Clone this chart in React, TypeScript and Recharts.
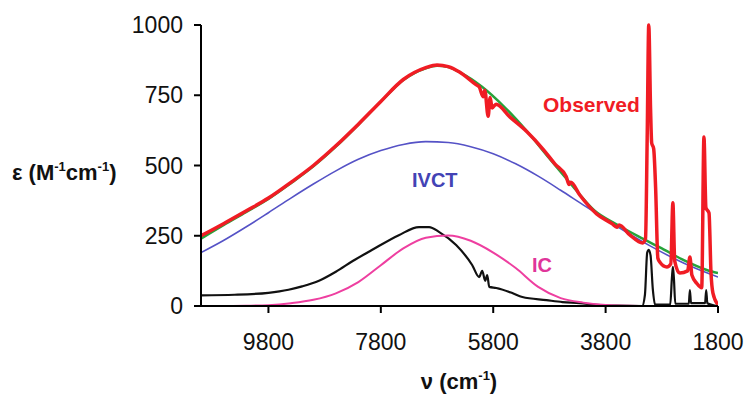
import { ComposedChart, Line, ReferenceLine, XAxis, YAxis } from "recharts";

// wavenumber grid (cm-1) used by the two fitted components
const gridNu = [
  11000, 10600, 10200, 9800, 9400, 9000, 8600, 8200, 7800, 7400, 7000, 6600,
  6200, 5800, 5400, 5000, 4600, 4200, 3800, 3400, 3000, 2600, 2200, 1800,
];
const ivct = [
  190, 233, 281, 332, 384, 434, 481, 522, 553, 575, 585, 582, 567, 542, 506,
  462, 412, 360, 309, 259, 213, 171, 134, 103,
];
const ic = [
  0, 0, 1, 3, 10, 22, 45, 85, 145, 205, 243, 251, 232, 190, 135, 68, 28, 12, 4,
  1, 0, 0, 0, 0,
];

// total fit
const fitNu = [
  11000, 10600, 10200, 9800, 9400, 9000, 8600, 8200, 7800, 7400, 7000, 6800,
  6600, 6400, 6000, 5600, 5200, 4800, 4400, 4000, 3600, 3200, 2800, 2400, 2000,
  1800,
];
const fit = [
  240, 288, 334, 381, 437, 497, 567, 645, 727, 804, 846, 855, 850, 832, 780,
  708, 622, 525, 430, 340, 290, 246, 205, 162, 128, 117,
];

// observed spectrum
const obsNu = [
  11000, 10600, 10200, 9800, 9400, 9000, 8600, 8200, 7800, 7400, 7000, 6800,
  6600, 6400, 6100, 6050, 5980, 5950, 5890, 5855, 5820, 5750, 5500, 5200, 4900,
  4700, 4500, 4450, 4420, 4260, 3960, 3680, 3600, 3560, 3370, 3140, 3090, 3060,
  3032, 3000, 2980, 2945, 2910, 2870, 2830, 2710, 2640, 2603, 2570, 2480, 2340,
  2300, 2265, 2175, 2090, 2050, 2015, 1960, 1925, 1890, 1800,
];
const observed = [
  250, 293, 338, 384, 440, 500, 570, 647, 728, 806, 848, 858, 852, 833, 787,
  780, 745, 768, 675, 742, 705, 718, 672, 620, 555, 505, 460, 432, 440, 395,
  328, 292, 280, 288, 253, 224, 240, 600, 1000, 700, 580, 560, 420, 170, 155,
  139, 150, 367, 160, 117, 125, 174, 110, 80, 65, 601, 350, 331, 120, 46, 5,
];

// black trace
const difNu = [
  11000, 10400, 9800, 9443, 9200, 8900, 8600, 8300, 7960, 7480, 7120, 6940,
  6760, 6460, 6175, 6050, 5996, 5943, 5907, 5871, 5746, 5461, 5282, 4853, 4568,
  4264, 3961, 3600, 3150, 3100, 3060, 3032, 3000, 2960, 2920, 2650, 2620, 2603,
  2585, 2560, 2320, 2300, 2280, 2030, 2010, 1990, 1800,
];
const dif = [
  38, 40, 47, 58, 70, 90, 122, 160, 199, 252, 281, 281, 263, 217, 146, 103, 125,
  90, 110, 68, 64, 46, 32, 21, 14, 10, 4, 1, 0, 40, 190, 200, 180, 60, 5, 5,
  100, 139, 100, 8, 8, 57, 10, 10, 57, 10, 0,
];

const toRows = (nu: number[], v: number[]) =>
  nu.map((n, i) => ({ nu: n, v: v[i] }));

const font = "'Liberation Sans', Arial, sans-serif";

export default function App() {
  return (
    <div style={{ position: "absolute", left: 0, top: 0, width: 749, height: 394, background: "#fff" }}>
      <ComposedChart width={749} height={394} margin={{ top: 25, right: 31, bottom: 28, left: 0 }}>
        <XAxis
          dataKey="nu"
          type="number"
          domain={[1800, 11000]}
          reversed
          allowDataOverflow
          ticks={[9800, 7800, 5800, 3800, 1800]}
          height={60}
          tickSize={7}
          tickMargin={21}
          axisLine={{ stroke: "#000", strokeWidth: 2 }}
          tickLine={{ stroke: "#000", strokeWidth: 2 }}
          tick={{ fill: "#111", fontSize: 23, fontFamily: font }}
        />
        <YAxis
          type="number"
          domain={[0, 1000]}
          ticks={[0, 250, 500, 750, 1000]}
          width={201}
          tickSize={7}
          tickMargin={11}
          axisLine={{ stroke: "#000", strokeWidth: 2 }}
          tickLine={{ stroke: "#000", strokeWidth: 2 }}
          tick={{ fill: "#111", fontSize: 23, fontFamily: font }}
        />
        <ReferenceLine y={0} stroke="#2e8b3a" strokeWidth={2} />
        <Line data={toRows(gridNu, ivct)} dataKey="v" type="monotone" stroke="#5552c6" strokeWidth={1.6} dot={false} isAnimationActive={false} />
        <Line data={toRows(difNu, dif)} dataKey="v" type="monotone" stroke="#111" strokeWidth={2.2} dot={false} isAnimationActive={false} />
        <Line data={toRows(gridNu, ic)} dataKey="v" type="monotone" stroke="#ee3fa0" strokeWidth={2} dot={false} isAnimationActive={false} />
        <Line data={toRows(fitNu, fit)} dataKey="v" type="monotone" stroke="#27a33a" strokeWidth={2.5} dot={false} isAnimationActive={false} />
        <Line data={toRows(obsNu, observed)} dataKey="v" type="monotone" stroke="#f01c24" strokeWidth={3.5} dot={false} isAnimationActive={false} />
      </ComposedChart>
      <svg width={749} height={394} style={{ position: "absolute", left: 0, top: 0, pointerEvents: "none" }}>
        <g fontFamily={font} fontWeight="bold">
          <text x={12} y={180} fontSize={22} fill="#111">
            ε (M<tspan fontSize={13} dy={-9}>-1</tspan>
            <tspan fontSize={22} dy={9}>cm</tspan>
            <tspan fontSize={13} dy={-9}>-1</tspan>
            <tspan fontSize={22} dy={9}>)</tspan>
          </text>
          <text x={459} y={389} fontSize={22} fill="#111" textAnchor="middle">
            ν (cm<tspan fontSize={13} dy={-9}>-1</tspan>
            <tspan fontSize={22} dy={9}>)</tspan>
          </text>
          <text x={543} y={112} fontSize={21} fill="#f01c24">Observed</text>
          <text x={412} y={187} fontSize={20} fill="#4343b5">IVCT</text>
          <text x={532} y={272} fontSize={20} fill="#e0359a">IC</text>
        </g>
      </svg>
    </div>
  );
}
